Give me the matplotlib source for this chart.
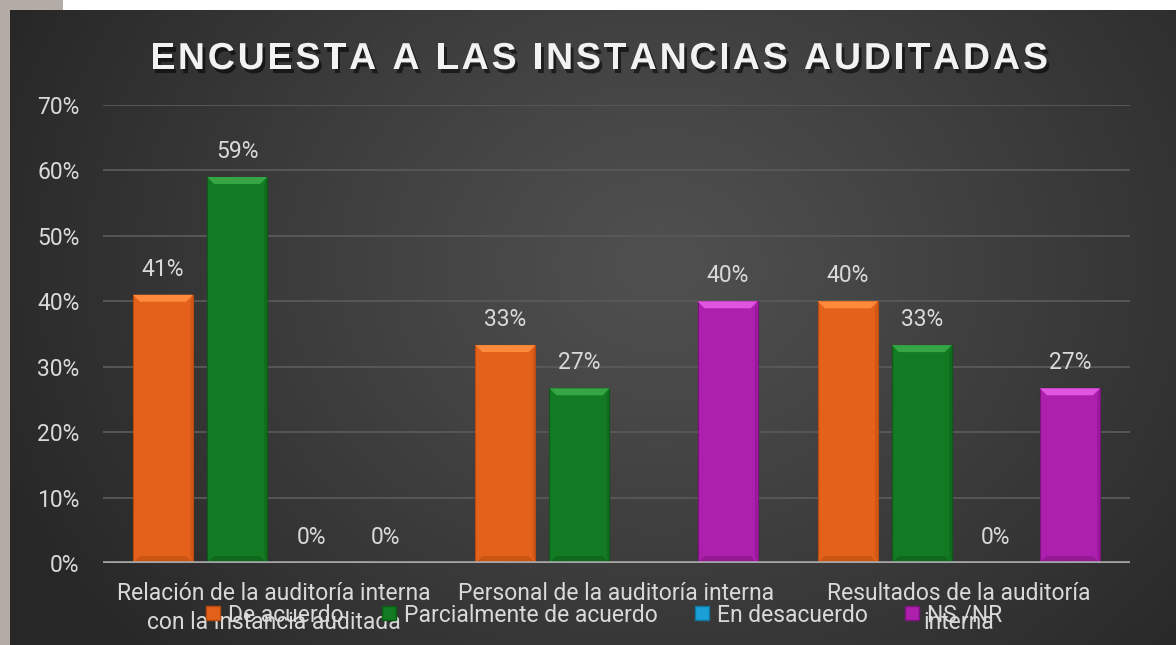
import numpy as np
import matplotlib
matplotlib.use("Agg")
import matplotlib.pyplot as plt
from matplotlib.patches import Rectangle, Polygon
from matplotlib.lines import Line2D
from matplotlib.font_manager import FontProperties
import matplotlib.patheffects as pe

# ---------------- data ----------------
title = "ENCUESTA A LAS INSTANCIAS AUDITADAS"
categories = ["Relación de la auditoría interna\ncon la instancia auditada",
              "Personal de la auditoría interna",
              "Resultados de la auditoría\ninterna"]
series_names = ["De acuerdo", "Parcialmente de acuerdo", "En desacuerdo", "NS /NR"]
de_acuerdo = [0.41, 0.333, 0.40]
parcialmente = [0.59, 0.267, 0.333]
en_desacuerdo = [0.0, np.nan, 0.0]
ns_nr = [0.0, 0.40, 0.267]
yticks = [0, 0.1, 0.2, 0.3, 0.4, 0.5, 0.6, 0.7]
ytick_labels = ["0%", "10%", "20%", "30%", "40%", "50%", "60%", "70%"]

series = [de_acuerdo, parcialmente, en_desacuerdo, ns_nr]
main_colors = ["#e3611a", "#127a22", "#1a9fd6", "#ad1fad"]
light_colors = ["#ff8a3c", "#36a645", "#5cd0f5", "#e055e0"]
dark_colors = ["#b84a10", "#0b5a17", "#10779f", "#7e127e"]

FS = 16.5
FONT = "Roboto"
TXT = "#d9d9d9"

W, H = 1176, 645
fig = plt.figure(figsize=(W / 100, H / 100), dpi=100)
fig.patch.set_facecolor("#b2aba6")

# white strip at top
fig.patches.append(Rectangle((63 / W, 1 - 10 / H), 1, 10 / H, transform=fig.transFigure,
                             facecolor="white", edgecolor="none", zorder=0))
fig.text(86 / W, 1 + 9 / H, "g", fontsize=15, color="black", va="baseline", ha="left")

# dark gradient background
bg = fig.add_axes([10 / W, 0, (W - 10) / W, (H - 10) / H])
bg.set_axis_off()
yy, xx = np.mgrid[0:635, 0:1166]
cx, cy = 650, 380
r = np.sqrt(((xx - cx) / 1.2) ** 2 + (yy - cy) ** 2)
t = np.clip(r / 600, 0, 1) ** 1.1
c0 = np.array([0x50, 0x50, 0x50]) / 255
c1 = np.array([0x27, 0x27, 0x27]) / 255
img = c0[None, None, :] * (1 - t[..., None]) + c1[None, None, :] * t[..., None]
bg.imshow(img, aspect="auto", extent=[0, 1, 0, 1], origin="lower")
bg.set_xlim(0, 1); bg.set_ylim(0, 1)

# plot axes
L, R, T, B = 103, 1130, 105, 563
ax = fig.add_axes([L / W, (H - B) / H, (R - L) / W, (B - T) / H])
ax.set_facecolor("none")
ax.set_xlim(-0.5, 2.5)
ax.set_ylim(0, 0.7)

x = np.arange(len(categories))
slot = 74 / 342
bw = 60 / 342
offsets = [-1.5 * slot, -0.5 * slot, 0.5 * slot, 1.5 * slot]

px_x = 3.0 / (R - L)
px_y = 0.7 / (B - T)
bev_x = 7 * px_x
bev_y = 7 * px_y

for s, vals in enumerate(series):
    for i, v in enumerate(vals):
        if np.isnan(v):
            continue
        xc = x[i] + offsets[s]
        x0, x1 = xc - bw / 2, xc + bw / 2
        if v > 0:
            ax.bar(xc, v, width=bw, color=main_colors[s], edgecolor=dark_colors[s],
                   linewidth=0.8, zorder=3)
            ax.add_patch(Polygon([(x0, v), (x1, v), (x1 - bev_x, v - bev_y), (x0 + bev_x, v - bev_y)],
                                 closed=True, facecolor=light_colors[s], edgecolor="none", zorder=4))
            ax.add_patch(Polygon([(x0, 0), (x1, 0), (x1 - bev_x, bev_y), (x0 + bev_x, bev_y)],
                                 closed=True, facecolor=dark_colors[s], edgecolor="none", alpha=0.5, zorder=4))
            ax.add_patch(Polygon([(x1, 0), (x1, v), (x1 - bev_x * 0.4, v - bev_y), (x1 - bev_x * 0.4, bev_y)],
                                 closed=True, facecolor=dark_colors[s], edgecolor="none", alpha=0.4, zorder=4))
        ax.annotate(f"{v*100:.0f}%", (xc, v), xytext=(0, 10), textcoords="offset points",
                    ha="center", va="bottom", fontsize=FS, color=TXT, family=FONT, zorder=5)

ax.set_yticks(yticks)
ax.set_yticklabels(ytick_labels, fontsize=FS, color=TXT, family=FONT)
ax.set_xticks(x)
ax.set_xticklabels(categories, fontsize=FS, color=TXT, family=FONT, linespacing=1.32)
ax.tick_params(axis="both", length=0)
ax.tick_params(axis="y", pad=17)
ax.tick_params(axis="x", pad=13.5)
for sp in ax.spines.values():
    sp.set_visible(False)
ax.grid(axis="y", color="#595959", linewidth=1.3, zorder=0)
ax.set_axisbelow(True)
ax.axhline(0, color="#a6a6a6", linewidth=2.6, zorder=6)

# legend
handles = [Line2D([], [], marker="s", linestyle="none", markersize=10, markerfacecolor=main_colors[s],
                  markeredgecolor=dark_colors[s]) for s in range(4)]
fig.legend(handles, series_names, loc="center", bbox_to_anchor=(604 / W, 1 - 615 / H), ncol=4,
           frameon=False, labelcolor=TXT, handlelength=0.7, handletextpad=0.3,
           columnspacing=1.6, prop={"family": FONT, "size": FS})

# title with letter spacing (each glyph placed along the line)
tfp = FontProperties(family="Liberation Sans", weight="bold", size=27)
fig.canvas.draw()
renderer = fig.canvas.get_renderer()
widths = []
for ch in title:
    if ch == " ":
        widths.append(27 * 0.278 * 100 / 72)
    else:
        tmp = fig.text(0, 0, ch, fontproperties=tfp)
        bb = tmp.get_window_extent(renderer)
        widths.append(bb.width)
        tmp.remove()
target_w = 898
spacing = (target_w - sum(widths)) / (len(title) - 1)
xpos = 150.0
for ch, w in zip(title, widths):
    if ch != " ":
        fig.text(xpos / W, 1 - 59 / H, ch, ha="left", va="center", fontproperties=tfp,
                 color="#f2f2f2",
                 path_effects=[pe.withSimplePatchShadow(offset=(2, -3), shadow_rgbFace="black", alpha=0.55)])
    xpos += w + spacing

fig.savefig("out.png", dpi=100, facecolor=fig.get_facecolor())
